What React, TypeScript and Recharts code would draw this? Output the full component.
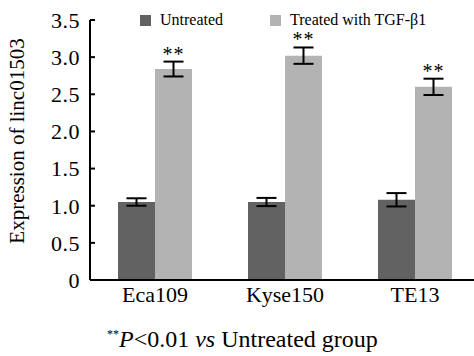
import { BarChart, Bar, XAxis, YAxis, ErrorBar, LabelList, Label } from "recharts";

const categories = ["Eca109", "Kyse150", "TE13"];
const untreated = [1.05, 1.05, 1.08];
const untreatedErr = [0.05, 0.055, 0.09];
const treated = [2.84, 3.02, 2.6];
const treatedErr = [0.1, 0.11, 0.11];
const yTicks = [0, 0.5, 1, 1.5, 2, 2.5, 3, 3.5];

const DARK = "#626262";
const LIGHT = "#b3b3b3";
const FONT = "Liberation Serif";

const data = categories.map((name, i) => ({
  name,
  untreated: untreated[i],
  untreatedErr: untreatedErr[i],
  treated: treated[i],
  treatedErr: treatedErr[i],
}));

function YTick(props: any) {
  const { x, y, payload } = props;
  const v = payload.value as number;
  return (
    <g>
      <line x1={x + 10} x2={x + 15} y1={y} y2={y} stroke="#000" strokeWidth={2} />
      <text
        x={x}
        y={y}
        dy="0.36em"
        textAnchor="end"
        fontSize={22}
        letterSpacing={0.5}
        style={{ fontFamily: FONT }}
        fill="#000"
      >
        {v === 0 ? "0" : v.toFixed(1)}
      </text>
    </g>
  );
}

function XTick(props: any) {
  const { x, y, payload } = props;
  return (
    <text x={x} y={y} dy="0.71em" textAnchor="middle" fontSize={22} style={{ fontFamily: FONT }} fill="#000">
      {payload.value}
    </text>
  );
}

function Stars(props: any) {
  const { x, y, width, height, value, index } = props;
  // pixels per unit taken from the bar itself, so stars sit above the error bar
  const errPx = (treatedErr[index] * height) / value;
  return (
    <text
      x={x + width / 2}
      y={y - errPx - 1}
      textAnchor="middle"
      fontSize={20}
      letterSpacing={1}
      style={{ fontFamily: FONT }}
      fill="#000"
    >
      **
    </text>
  );
}

function LegendBox() {
  const item = (color: string, text: string, left: number) => (
    <div style={{ position: "absolute", left, top: 0, display: "flex", alignItems: "center" }}>
      <span style={{ width: 11, height: 11, background: color, display: "inline-block", marginRight: 9 }} />
      <span style={{ fontSize: 16, fontFamily: FONT, color: "#000", whiteSpace: "nowrap" }}>{text}</span>
    </div>
  );
  return (
    <div style={{ position: "absolute", left: 140, top: 11, width: 330, height: 20 }}>
      {item(DARK, "Untreated", 0)}
      {item(LIGHT, "Treated with TGF-β1", 130)}
    </div>
  );
}

export default function App() {
  return (
    <div
      style={{
        position: "absolute",
        left: 0,
        top: 0,
        width: 474,
        height: 356,
        overflow: "hidden",
        background: "#fff",
      }}
    >
      <BarChart
        width={480}
        height={356}
        data={data}
        margin={{ top: 20, right: 0, bottom: 46, left: 30 }}
        barGap={0}
        barSize={37}
      >
        <XAxis
          dataKey="name"
          tickLine={false}
          tickSize={0}
          tickMargin={6}
          axisLine={{ stroke: "#000", strokeWidth: 2 }}
          tick={<XTick />}
          height={30}
        />
        <YAxis
          domain={[0, 3.5]}
          ticks={yTicks}
          width={60}
          tickSize={0}
          tickMargin={10}
          axisLine={{ stroke: "#000", strokeWidth: 2 }}
          tick={<YTick />}
          interval={0}
        >
          <Label
            content={() => (
              <text
                x={24}
                y={141}
                transform="rotate(-90 24 141)"
                textAnchor="middle"
                fontSize={21}
                style={{ fontFamily: FONT }}
                fill="#000"
              >
                Expression of linc01503
              </text>
            )}
          />
        </YAxis>
        <Bar dataKey="untreated" fill={DARK} isAnimationActive={false}>
          <ErrorBar dataKey="untreatedErr" width={10} stroke="#000" strokeWidth={2} />
        </Bar>
        <Bar dataKey="treated" fill={LIGHT} isAnimationActive={false}>
          <ErrorBar dataKey="treatedErr" width={10} stroke="#000" strokeWidth={2} />
          <LabelList dataKey="treated" content={<Stars />} />
        </Bar>
      </BarChart>
      <LegendBox />
      <div
        style={{
          position: "absolute",
          left: 107,
          top: 326,
          fontSize: 24,
          fontFamily: FONT,
          color: "#000",
          whiteSpace: "nowrap",
        }}
      >
        <sup style={{ fontSize: 12 }}>**</sup>
        <i>P</i>&lt;0.01 <i>vs</i> Untreated group
      </div>
    </div>
  );
}
